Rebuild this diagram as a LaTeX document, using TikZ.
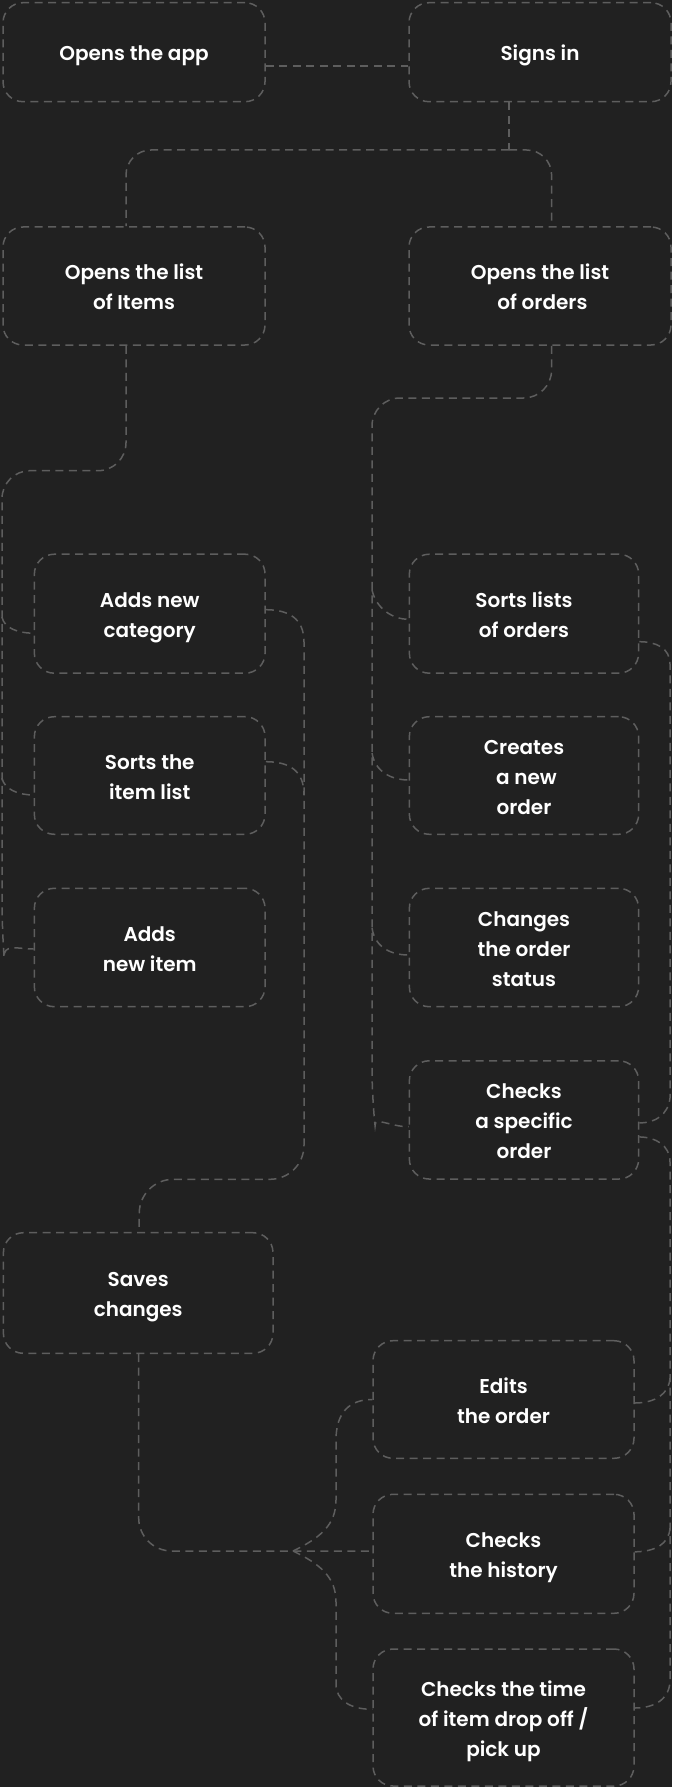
\documentclass[tikz,border=0pt]{standalone}
\usepackage{fontspec}
\setmainfont{Poppins}[UprightFont=* SemiBold]
\definecolor{bg}{HTML}{212121}
\definecolor{ln}{HTML}{5E5E5E}
\newcommand{\boxtext}[1]{\raisebox{-2.5pt}[\height][\depth]{\begin{tabular}{@{}c@{}}#1\end{tabular}}}
\begin{document}
\begin{tikzpicture}[x=1pt,y=-1pt,
  box/.style={draw=ln, line width=1.5pt, dash pattern=on 8pt off 5.5pt, rounded corners=20pt,
    text=white, font=\fontsize{20}{30}\selectfont, inner sep=0pt},
  conn/.style={draw=ln, line width=1.5pt, dash pattern=on 8pt off 5.5pt}]
\fill[bg] (0,0) rectangle (672,1787);
\useasboundingbox (0,0) rectangle (672,1787);

% nodes
\node[box, minimum width=262pt, minimum height=99pt] (app) at (134,52.2) {\boxtext{Opens the app}};
\node[box, minimum width=262pt, minimum height=99pt] (signs) at (540,52.2) {\boxtext{Signs in}};
\node[box, minimum width=262pt, minimum height=118pt] (items) at (134,286) {\boxtext{Opens the list\\of Items}};
\node[box, minimum width=262pt, minimum height=118pt] (orders) at (540,286) {\boxtext{Opens the list\\\ of orders}};
\node[box, minimum width=230.7pt, minimum height=119pt] (cat) at (149.7,613.7) {\boxtext{Adds new\\category}};
\node[box, minimum width=230.7pt, minimum height=117.6pt] (sortitem) at (149.7,775.5) {\boxtext{Sorts the\\item list}};
\node[box, minimum width=230.7pt, minimum height=118.4pt] (additem) at (149.7,947.5) {\boxtext{Adds\\new item}};
\node[box, minimum width=229.3pt, minimum height=119pt] (sortord) at (524,613.7) {\boxtext{Sorts lists\\of orders}};
\node[box, minimum width=229.3pt, minimum height=117.6pt] (create) at (524,775.5) {\boxtext{Creates\\\ a new\\order}};
\node[box, minimum width=229.3pt, minimum height=118.4pt] (change) at (524,947.5) {\boxtext{Changes\\the order\\status}};
\node[box, minimum width=229.3pt, minimum height=118.3pt] (check) at (524,1119.9) {\boxtext{Checks\\a specific\\order}};
\node[box, minimum width=269.6pt, minimum height=120.6pt] (save) at (138.2,1293) {\boxtext{Saves\\changes}};
\node[box, minimum width=261pt, minimum height=117.6pt] (edit) at (503.5,1399.5) {\boxtext{Edits\\the order}};
\node[box, minimum width=261pt, minimum height=119pt] (hist) at (503.5,1553.8) {\boxtext{Checks\\the history}};
\node[box, minimum width=261pt, minimum height=137pt] (time) at (503.5,1717.5) {\boxtext{Checks the time\\of item drop off /\\pick up}};

% junction coordinates
\coordinate (sj) at (509,150);
\coordinate (lbA) at (2,617);
\coordinate (lbB) at (2,778);
\coordinate (rbA) at (304,795);
\coordinate (obA) at (372,590);
\coordinate (obB) at (372,753);
\coordinate (obC) at (372,928);
\coordinate (fbA) at (670,1378);
\coordinate (fbB) at (670,1528);
\coordinate (sj2) at (293,1551);

% app -> signs
\draw[conn] ([yshift=-13.8pt]app.east) -- ([yshift=-13.8pt]signs.west);
% signs -> items / orders
\draw[conn] ([xshift=-31pt]signs.south) -- (sj);
\draw[conn, rounded corners=25pt] (sj) -- (126,150) -- ([xshift=-8pt]items.north);
\draw[conn, rounded corners=25pt] (sj) -- (551.6,150) -- ([xshift=11.6pt]orders.north);

% items -> left bus -> category / sort / add item
\draw[conn, rounded corners=28pt] ([xshift=-8pt]items.south) -- (126,470.7) -- (2,470.7) -- (2,930)
  [sharp corners] .. controls (3,943) and (18,949) .. ([yshift=-1.5pt]additem.west);
\draw[conn] (lbA) .. controls (4,628) and (18,633.2) .. ([yshift=-19.5pt]cat.west);
\draw[conn] (lbB) .. controls (4,789) and (18,795) .. ([yshift=-19.5pt]sortitem.west);

% category / sort -> save
\draw[conn] ([yshift=4pt]cat.east) .. controls (288,609.7) and (304,618) .. (304,642)
  [rounded corners=34pt] -- (304,1179.3) -- (139.3,1179.3) -- ([xshift=1pt]save.north);
\draw[conn] ([yshift=13.8pt]sortitem.east) .. controls (290,761.7) and (304,771) .. (rbA);

% orders -> order bus
\draw[conn, rounded corners=28pt] ([xshift=11.6pt]orders.south) -- (551.6,398) -- (372,398) -- (372,1098)
  [sharp corners] .. controls (374,1116) and (390,1126.7) .. ([yshift=-6.8pt]check.west);
\draw[conn] (obA) .. controls (376,608) and (392,619.3) .. ([yshift=-5.6pt]sortord.west);
\draw[conn] (obB) .. controls (375,772) and (392,780) .. ([yshift=-4.5pt]create.west);
\draw[conn] (obC) .. controls (375,948) and (392,955) .. ([yshift=-7.5pt]change.west);

% sort orders -> far right bus -> check
\draw[conn] ([yshift=-28pt]sortord.east) .. controls (656,641.7) and (670,648) .. (670,664)
  -- (670,1098) .. controls (668,1115) and (655,1123) .. ([yshift=-3pt]check.east);
% check -> far right bus -> edit / history / time
\draw[conn] ([yshift=-17pt]check.east) .. controls (655,1137) and (670,1145) .. (670,1162)
  -- (670,1680) .. controls (670,1698) and (656,1708) .. ([yshift=9.5pt]time.east);
\draw[conn] (fbA) .. controls (669,1394) and (655,1403) .. ([yshift=-3.5pt]edit.east);
\draw[conn] (fbB) .. controls (669,1544) and (655,1551.7) .. ([yshift=2pt]hist.east);

% save -> edit / history / time
\draw[conn, rounded corners=33pt] ([xshift=0.5pt]save.south) -- (138.7,1551) -- ([yshift=2.8pt]hist.west);
\draw[conn] (sj2) .. controls (320,1538) and (336,1525) .. (336,1500)
  -- (336,1440) .. controls (336,1412) and (350,1399.5) .. (edit.west);
\draw[conn] (sj2) .. controls (320,1564) and (336,1577) .. (336,1602)
  -- (336,1684) .. controls (336,1700) and (350,1709.3) .. ([yshift=8.2pt]time.west);
\end{tikzpicture}
\end{document}
